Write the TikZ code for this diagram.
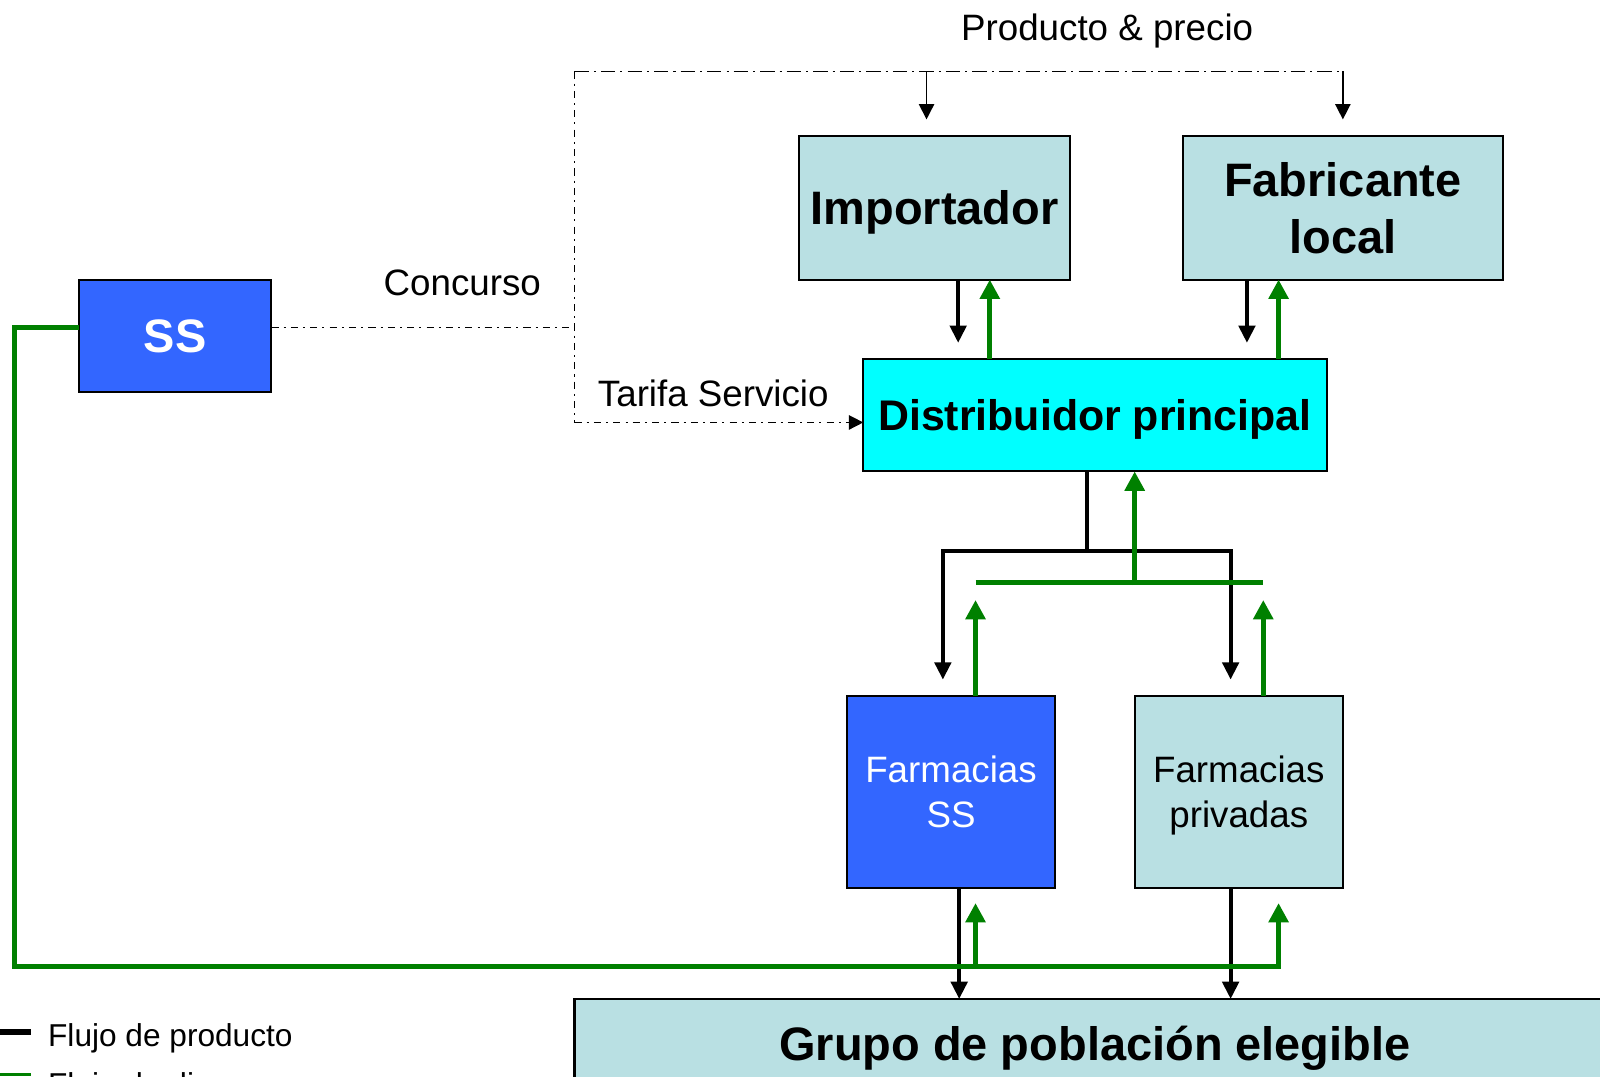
\documentclass[tikz,border=0pt]{standalone}
\usepackage{fontspec}
\setmainfont{Liberation Sans}
\usetikzlibrary{arrows.meta,calc}
\definecolor{pale}{RGB}{185,224,227}
\definecolor{ssblue}{RGB}{51,102,255}
\definecolor{aqua}{RGB}{0,255,255}
\definecolor{flowgreen}{RGB}{0,128,0}
\tikzset{
 box/.style={draw=black, line width=2pt, inner sep=0pt, outer sep=0pt, anchor=north west, align=center, text depth=0pt},
 prod/.style={draw=black, line width=4pt, -{Triangle[width=16pt,length=17pt]}},
 prodline/.style={draw=black, line width=4pt},
 pay/.style={draw=flowgreen, line width=5pt, -{Triangle[width=19pt,length=19pt]}},
 payline/.style={draw=flowgreen, line width=5pt},
 dashbig/.style={draw=black, line width=1.5pt, dash pattern=on 14pt off 5pt on 2pt off 5pt},
 dashsmall/.style={draw=black, line width=1.5pt, dash pattern=on 7pt off 5pt on 2pt off 5pt},
 thinarrow/.style={draw=black, line width=1.5pt, -{Triangle[width=15pt,length=15pt]}},
 reg/.style={font=\fontsize{36}{44}\selectfont},
 big/.style={font=\fontsize{46}{56}\selectfont\bfseries},
 lbl/.style={font=\fontsize{36}{44}\selectfont, inner sep=0pt, anchor=base},
}
\begin{document}
\begin{tikzpicture}[x=1pt,y=-1pt]
\useasboundingbox (0,0) rectangle (1568,1055);
\clip (0,0) rectangle (1568,1055);
% boxes
\node[box, fill=pale, minimum width=266pt, minimum height=141pt, big] (imp) at (783,133) {Importador};
\node[box, fill=pale, minimum width=314pt, minimum height=141pt, big] (fab) at (1159,133) {Fabricante\\local};
\node[box, fill=ssblue, text=white, minimum width=189pt, minimum height=110pt, big] (ss) at (77,274) {SS};
\node[box, fill=aqua, minimum width=454pt, minimum height=110pt, font=\fontsize{42}{50}\selectfont\bfseries] (dist) at (846,352) {Distribuidor principal};
\node[box, fill=ssblue, text=white, minimum width=204pt, minimum height=188pt, reg] (fss) at (830,682) {Farmacias\\SS};
\node[box, fill=pale, minimum width=204pt, minimum height=188pt, reg] (fpr) at (1112,682) {Farmacias\\privadas};
\node[box, fill=pale, minimum width=1080pt, minimum height=200pt] (grp) at (563,979) {};
\node[big, inner sep=0pt, text depth=0pt] (grptext) at (1073,1022) {Grupo de población elegible};
% labels
\node[lbl] (lprod) at (1085,40) {Producto \& precio};
\node[lbl] (lconc) at (453,290) {Concurso};
\node[lbl] (ltar) at (699,398) {Tarifa Servicio};
% dash-dot connectors
\coordinate (tl) at (563,70);
\coordinate (tr) at (1316,70);
\coordinate (ti) at (908,70);
\coordinate (bl) at (563,414);
\coordinate (sl) at (563,321);
\draw[dashbig] (tl) -- (tr);
\draw[dashsmall] (tl) -- (bl);
\draw[dashsmall, -{Triangle[width=14pt,length=14pt]}] (bl) -- (bl -| dist.west);
\draw[dashsmall] ([yshift=8pt]ss.east) -- (sl);
\draw[thinarrow] (ti) -- ($(ti |- imp.north)+(0,-16)$);
\draw[thinarrow] (tr) -- ($(tr |- fab.north)+(0,-16)$);
% importer / manufacturer <-> distributor
\draw[prod] ($(imp.south west)+(156,0)$) -- ($(imp.south west |- dist.north)+(156,-16)$);
\draw[pay] ($(imp.south west |- dist.north)+(187,0)$) -- ($(imp.south west)+(187,0)$);
\draw[prod] ($(fab.south west)+(63,0)$) -- ($(fab.south west |- dist.north)+(63,-16)$);
\draw[pay] ($(fab.south west |- dist.north)+(94,0)$) -- ($(fab.south west)+(94,0)$);
% distributor -> pharmacies
\coordinate (j) at (1065,540);
\coordinate (jl) at (924,540);
\coordinate (jr) at (1206,540);
\draw[prodline] (j |- dist.south) -- (j);
\draw[prod] (j) -| ($(jl |- fss.north)+(0,-16)$);
\draw[prod] (j) -| ($(jr |- fpr.north)+(0,-16)$);
\coordinate (g) at (1112,571);
\coordinate (gl) at (956,571);
\coordinate (gr) at (1238,571);
\draw[payline] (gl) -- (gr);
\draw[pay] ($(g)+(0,2.5)$) -- (g |- dist.south);
\draw[pay] (gl |- fss.north) -- ($(gl)+(0,17)$);
\draw[pay] (gr |- fpr.north) -- ($(gr)+(0,17)$);
% pharmacies -> population
\draw[prod] ($(fss.south)+(8,0)$) -- ($(fss.south |- grp.north)+(8,0)$);
\draw[prod] ($(fpr.south)+(-8,0)$) -- ($(fpr.south |- grp.north)+(-8,0)$);
% SS payment loop
\coordinate (gc2) at (14,947);
\draw[pay] ([yshift=8pt]ss.west) -| (gc2) -| ($(fpr.south)+(39,15)$);
\draw[pay] ($(fss.south |- gc2)+(24,-2.5)$) -- ($(fss.south)+(24,15)$);
% legend
\coordinate (k1a) at (0,1011);
\coordinate (k1b) at (30,1011);
\coordinate (k2a) at (0,1053);
\coordinate (k2b) at (30,1053);
\draw[line width=6pt] (k1a) -- (k1b);
\node[anchor=base west, inner sep=0pt, font=\fontsize{31}{36}\selectfont] (leg1) at (47,1026) {Flujo de producto};
\draw[flowgreen, line width=2pt] (k2a) -- (k2b);
\node[anchor=north west, inner sep=0pt, font=\fontsize{31}{36}\selectfont] (leg2) at (47,1051) {Flujo de dinero};
\end{tikzpicture}
\end{document}
